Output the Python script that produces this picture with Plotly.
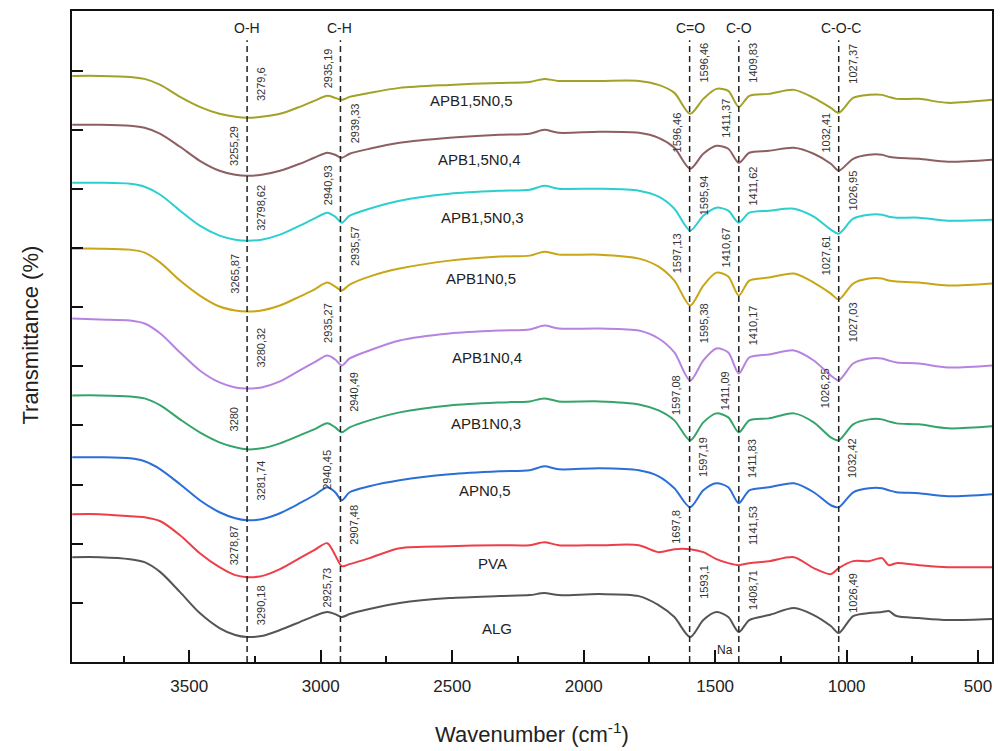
import plotly.graph_objects as go

# shared wavenumber grid (cm-1)
wavenumber = [3945, 3840, 3725, 3670, 3610, 3535, 3460, 3385, 3325, 3280, 3225, 3155, 3080, 3025,
              2975, 2945, 2920, 2890, 2815, 2700, 2510, 2320, 2205, 2150, 2095, 1940, 1790, 1715,
              1655, 1595, 1545, 1495, 1450, 1410, 1370, 1295, 1200, 1125, 1060, 1030, 975, 915,
              865, 840, 810, 725, 615, 447]

# stacked transmittance (arbitrary offset units)
t_apb15n05 = [587, 587, 586, 584, 578, 566, 556, 549, 546, 545, 546, 549, 556, 562, 567, 565, 563, 566,
              570, 575, 578, 580, 581, 584, 582, 582, 582, 578, 570, 549, 564, 574, 572, 556, 567, 569,
              573, 565, 555, 550, 565, 568, 568, 566, 564, 564, 560, 563]
t_apb15n04 = [538, 538, 537, 535, 529, 516, 502, 492, 488, 487, 488, 492, 499, 505, 510, 508, 505, 509,
              514, 520, 525, 528, 529, 533, 530, 531, 530, 525, 515, 494, 509, 517, 514, 500, 510, 512,
              515, 509, 499, 492, 504, 508, 508, 506, 505, 504, 501, 503]
t_apb15n03 = [480, 480, 479, 476, 468, 452, 437, 427, 423, 422, 423, 428, 437, 444, 450, 446, 440, 447,
              454, 462, 469, 472, 473, 477, 474, 474, 472, 466, 454, 432, 447, 455, 452, 440, 450, 452,
              454, 446, 433, 429, 444, 448, 448, 446, 445, 445, 442, 443]
t_apb1n05 = [414, 414, 413, 410, 400, 382, 367, 356, 352, 351, 352, 357, 366, 373, 380, 376, 372, 378,
             386, 394, 402, 406, 407, 411, 408, 408, 404, 396, 382, 357, 377, 390, 386, 367, 382, 385,
             389, 380, 369, 363, 379, 384, 384, 382, 381, 380, 377, 379]
t_apb1n04 = [344, 343, 342, 339, 329, 310, 292, 280, 275, 274, 275, 281, 292, 300, 307, 303, 297, 304,
             312, 322, 329, 332, 333, 337, 334, 334, 332, 324, 310, 282, 302, 314, 310, 289, 305, 308,
             312, 302, 287, 282, 299, 304, 304, 302, 300, 299, 295, 297]
t_apb1n03 = [267, 267, 266, 264, 257, 243, 230, 220, 215, 213, 214, 219, 227, 233, 239, 235, 230, 235,
             242, 250, 257, 260, 261, 264, 261, 261, 258, 252, 242, 222, 240, 249, 245, 230, 242, 244,
             249, 240, 225, 222, 238, 243, 243, 241, 239, 238, 234, 236]
t_apn05 = [205, 205, 204, 201, 193, 178, 162, 150, 144, 142, 143, 149, 159, 167, 175, 170, 162, 170,
           176, 182, 188, 191, 192, 196, 193, 194, 192, 186, 174, 155, 172, 179, 175, 159, 172, 175,
           179, 170, 157, 155, 170, 174, 174, 172, 170, 169, 166, 168]
t_pva = [148, 148, 146, 145, 141, 127, 109, 95, 87, 85, 86, 93, 104, 112, 119, 107, 96, 98,
         104, 114, 116, 117, 117, 120, 117, 117, 117, 110, 113, 113, 110, 103, 99, 97, 99, 101,
         105, 94, 88, 94, 101, 101, 104, 97, 99, 97, 95, 95]
t_alg = [105, 105, 103, 100, 90, 70, 49, 34, 27, 25, 26, 32, 40, 46, 50, 48, 45, 48,
         53, 59, 64, 66, 67, 69, 67, 68, 66, 57, 45, 25, 42, 50, 45, 30, 42, 47,
         54, 47, 36, 29, 46, 49, 50, 51, 46, 44, 42, 43]

series_names = ["APB1,5N0,5", "APB1,5N0,4", "APB1,5N0,3", "APB1N0,5", "APB1N0,4",
                "APB1N0,3", "APN0,5", "PVA", "ALG"]
series_values = [t_apb15n05, t_apb15n04, t_apb15n03, t_apb1n05, t_apb1n04,
                 t_apb1n03, t_apn05, t_pva, t_alg]
series_colors = ["#a2a226", "#8d5f62", "#2ccfd0", "#c8a616", "#b683e0",
                 "#35a46a", "#2a6ed8", "#ee3e4a", "#555555"]
# curve-name label anchors (wavenumber, transmittance units)
label_pos = [(2427, 562), (2397, 503), (2385, 445), (2389, 384), (2366, 305),
             (2370, 239), (2374, 172), (2347, 99), (2328, 34)]

# band reference lines
band_names = ["O-H", "C-H", "C=O", "C-O", "C-O-C"]
band_wn = [3280, 2925, 1597, 1410, 1030]
band_label_wn = [3280, 2930, 1595, 1410, 1023]

# peak annotations per band: (text, side, level)  side: -1 left, +1 right
peaks = {
    3280: [("3279,6", 1, 579), ("3255,29", -1, 517), ("32798,62", 1, 455), ("3265,87", -1, 389),
           ("3280,32", 1, 315), ("3280", -1, 243), ("3281,74", 1, 182), ("3278,87", -1, 117),
           ("3290,18", 1, 57)],
    2925: [("2935,19", -1, 595), ("2939,33", 1, 540), ("2940,93", -1, 478), ("2935,57", 1, 417),
           ("2935,27", -1, 340), ("2940,49", 1, 271), ("2940,45", -1, 193), ("2907,48", 1, 138),
           ("2925,73", -1, 75)],
    1597: [("1596,46", 1, 600), ("1596,46", -1, 530), ("1595,94", 1, 467), ("1597,13", -1, 409),
           ("1595,38", 1, 339), ("1597,08", -1, 267), ("1597,19", 1, 205), ("1697,8", -1, 135),
           ("1593,1", 1, 80)],
    1410: [("1409,83", 1, 600), ("1411,37", -1, 545), ("1411,62", 1, 477), ("1410,67", -1, 415),
           ("1410,17", 1, 337), ("1411,09", -1, 272), ("1411,83", 1, 204), ("1141,53", 1, 137),
           ("1408,71", 1, 72)],
    1030: [("1027,37", 1, 599), ("1032,41", -1, 530), ("1026,95", 1, 472), ("1027,61", -1, 407),
           ("1027,03", 1, 340), ("1026,25", -1, 274), ("1032,42", 1, 204), ("1026,49", 1, 69)],
}

FONT = "Liberation Sans, Arial, sans-serif"

fig = go.Figure()
for name, vals, col in zip(series_names, series_values, series_colors):
    fig.add_trace(go.Scatter(x=wavenumber, y=vals, mode="lines", name=name,
                             line=dict(color=col, width=2, shape="spline", smoothing=0.8),
                             showlegend=False, hoverinfo="skip"))

annotations = []
for name, (lx, ly) in zip(series_names, label_pos):
    annotations.append(dict(x=lx, y=ly, xref="x", yref="y", text=name, showarrow=False,
                            xanchor="center", yanchor="middle",
                            font=dict(family=FONT, size=15, color="#222222")))

for bname, bx, blx in zip(band_names, band_wn, band_label_wn):
    annotations.append(dict(x=blx, y=0.974, xref="x", yref="paper", text=bname, showarrow=False,
                            xanchor="center", yanchor="middle",
                            font=dict(family=FONT, size=14, color="#222222")))

shapes = []
for bx in band_wn:
    shapes.append(dict(type="line", xref="x", yref="paper", x0=bx, x1=bx, y0=0, y1=0.955,
                       line=dict(color="#222222", width=1.5, dash="6px,4px")))

for bx, plist in peaks.items():
    for txt, side, lvl in plist:
        annotations.append(dict(x=bx, y=lvl, xref="x", yref="y", text=txt, showarrow=False,
                                textangle=-90, xshift=13 * side + (1 if side > 0 else 0),
                                xanchor="center", yanchor="middle",
                                font=dict(family=FONT, size=11, color="#333333")))

annotations.append(dict(x=1463, y=12, xref="x", yref="y", text="Na", showarrow=False,
                        xanchor="center", yanchor="middle",
                        font=dict(family=FONT, size=12, color="#222222")))

annotations.append(dict(x=0.5, y=-0.109, xref="paper", yref="paper",
                        text="Wavenumber (cm<sup>-1</sup>)", showarrow=False,
                        xanchor="center", yanchor="middle",
                        font=dict(family=FONT, size=22, color="#222222")))
annotations.append(dict(x=-0.0456, y=0.5015, xref="paper", yref="paper",
                        text="Transmittance (%)", showarrow=False, textangle=-90,
                        xanchor="center", yanchor="middle",
                        font=dict(family=FONT, size=22, color="#222222")))

fig.update_layout(
    width=1003, height=751,
    margin=dict(l=72, r=9, t=10, b=89),
    paper_bgcolor="white", plot_bgcolor="white",
    annotations=annotations, shapes=shapes,
    xaxis=dict(range=[3946, 447], showgrid=False, zeroline=False,
               showline=True, mirror=True, linewidth=2, linecolor="#111111",
               ticks="inside", ticklen=12, tickwidth=1.5, tickcolor="#111111",
               tick0=0, dtick=500, ticklabelstandoff=8,
               tickfont=dict(family=FONT, size=17, color="#222222"),
               minor=dict(ticks="inside", ticklen=6, tickwidth=1.5, tickcolor="#111111",
                          dtick=250, tick0=0, showgrid=False)),
    yaxis=dict(range=[0, 652], showgrid=False, zeroline=False,
               showline=True, mirror=True, linewidth=2, linecolor="#111111",
               ticks="inside", ticklen=11, tickwidth=1.5, tickcolor="#111111",
               tickvals=[59.23 * i for i in range(1, 11)], showticklabels=False),
)

fig.write_html("out.html")
